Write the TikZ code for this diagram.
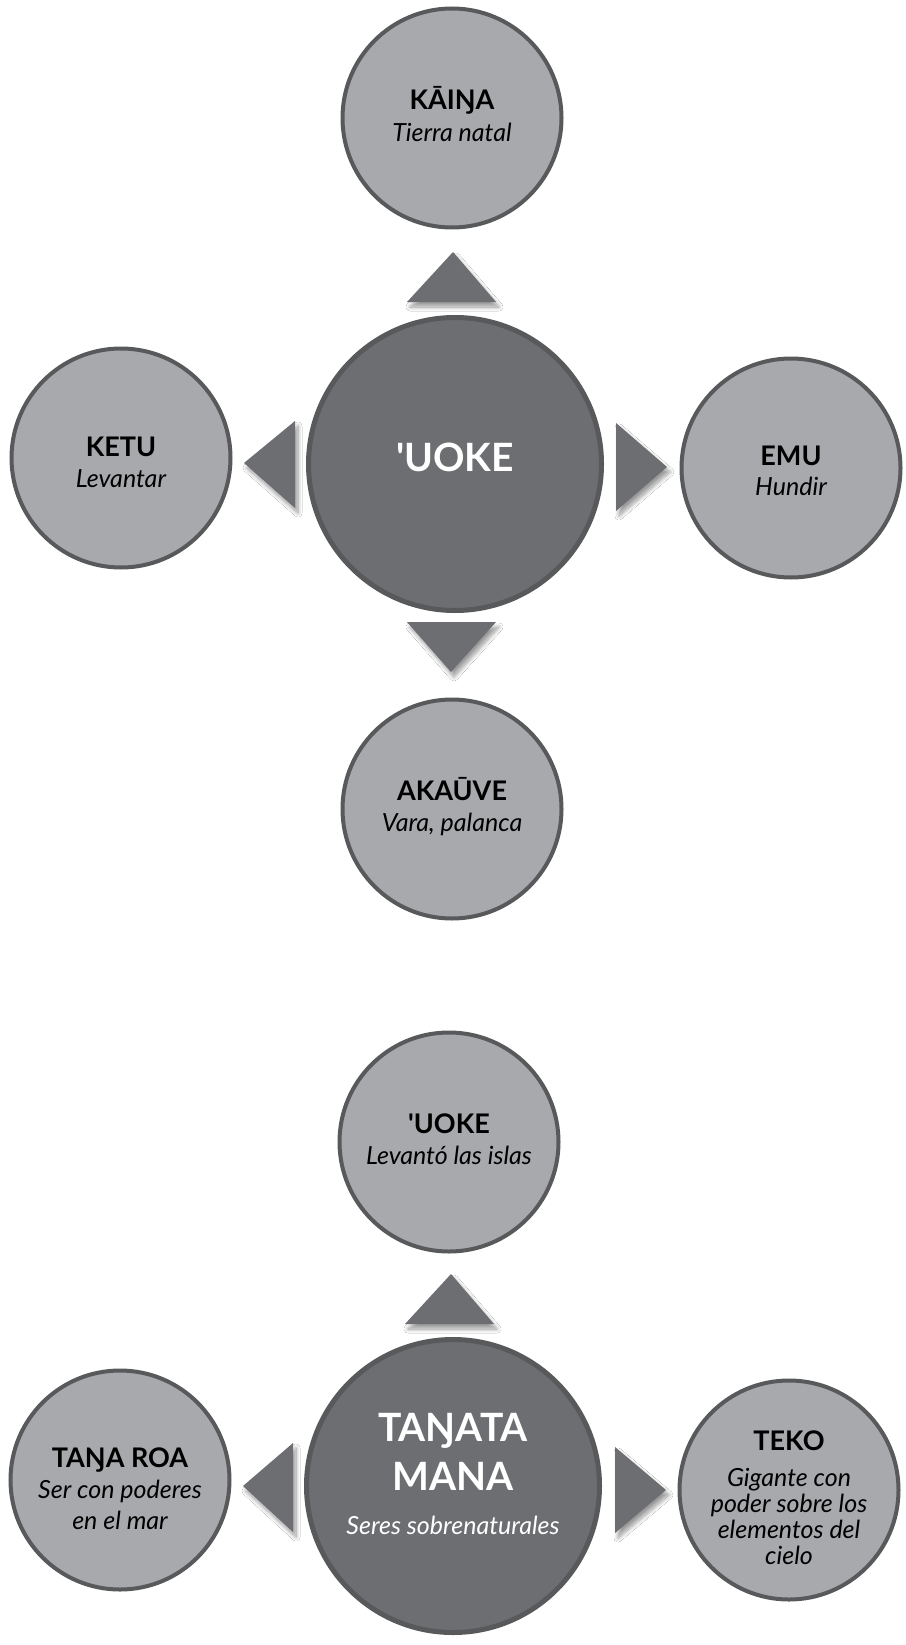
\documentclass[tikz,border=0pt]{standalone}
\usepackage{fontspec}
\setmainfont{Lato}
\usetikzlibrary{shadows.blur}
\definecolor{lightfill}{HTML}{A7A9AC}
\definecolor{darkfill}{HTML}{6D6E71}
\definecolor{rim}{HTML}{58595B}
\tikzset{
  small/.style={circle, draw=rim, line width=4pt, fill=lightfill, minimum size=219pt, inner sep=0pt},
  big/.style={circle, draw=rim, line width=5pt, fill=darkfill, minimum size=293pt, inner sep=0pt},
  tri/.style={fill=darkfill, blur shadow={shadow xshift=3pt, shadow yshift=-5pt, shadow blur steps=10, shadow blur radius=4pt, shadow opacity=40}},
  ttl/.style={anchor=base, inner sep=0pt, font=\fontsize{27}{30}\selectfont\bfseries, text=black},
  sub/.style={anchor=base, inner sep=0pt, font=\fontsize{25}{27}\selectfont\itshape, text=black},
  bigttl/.style={anchor=base, inner sep=0pt, font=\fontsize{39}{46}\selectfont\bfseries, text=white},
  bigsub/.style={anchor=base, inner sep=0pt, font=\fontsize{25}{27}\selectfont\itshape, text=white},
}
\begin{document}
\begin{tikzpicture}[x=1pt,y=-1pt]
\useasboundingbox[fill=white] (0,0) rectangle (905,1645);

% ---------- top diagram ----------
\node[small] (kaina) at (452,118) {};
\node[small] (ketu) at (121,458) {};
\node[big] (uoke) at (455,464) {};
\node[small] (emu) at (791,468) {};
\node[small] (akauve) at (452,809) {};

\fill[tri] (453,252) -- (496,302) -- (407,302) -- cycle;
\fill[tri] (244,463) -- (295,421) -- (295,508) -- cycle;
\fill[tri] (616,423) -- (667,467) -- (616,511) -- cycle;
\fill[tri] (407,622) -- (496,622) -- (451,672) -- cycle;

\node[ttl] (kaina-t) at (452,110) {KĀIŊA};
\node[sub] (kaina-s) at (452,141.5) {Tierra natal};
\node[ttl] (ketu-t) at (121,456) {KETU};
\node[sub] (ketu-s) at (121,487.5) {Levantar};
\node[bigttl] (uoke-t) at (455,471.5) {\textquotesingle UOKE};
\node[ttl] (emu-t) at (791,465) {EMU};
\node[sub] (emu-s) at (791,495.5) {Hundir};
\node[ttl] (akauve-t) at (452,800) {AKAŪVE};
\node[sub] (akauve-s) at (452,831.5) {Vara, palanca};

% ---------- bottom diagram ----------
\node[small] (uoke2) at (449,1142) {};
\node[big] (tangata) at (453,1486) {};
\node[small] (tangaroa) at (120,1480) {};
\node[small] (teko) at (789,1490) {};

\fill[tri] (451,1274) -- (494,1324) -- (405,1324) -- cycle;
\fill[tri] (243,1486) -- (293,1443) -- (293,1532) -- cycle;
\fill[tri] (615,1447) -- (666,1490) -- (615,1533) -- cycle;

\node[ttl] (uoke2-t) at (449,1133) {\textquotesingle UOKE};
\node[sub] (uoke2-s) at (449,1164) {Levantó las islas};
\node[bigttl] (tangata-t1) at (453,1441.5) {TAŊATA};
\node[bigttl] (tangata-t2) at (453,1490) {MANA};
\node[bigsub] (tangata-s) at (453,1534) {Seres sobrenaturales};
\node[ttl] (tangaroa-t) at (120,1467) {TAŊA ROA};
\node[sub] (tangaroa-s1) at (120,1498) {Ser con poderes};
\node[sub] (tangaroa-s2) at (120,1529) {en el mar};
\node[ttl] (teko-t) at (789,1450.5) {TEKO};
\node[sub] (teko-s1) at (789,1486) {Gigante con};
\node[sub] (teko-s2) at (789,1512.5) {poder sobre los};
\node[sub] (teko-s3) at (789,1538) {elementos del};
\node[sub] (teko-s4) at (789,1564) {cielo};
\end{tikzpicture}
\end{document}
